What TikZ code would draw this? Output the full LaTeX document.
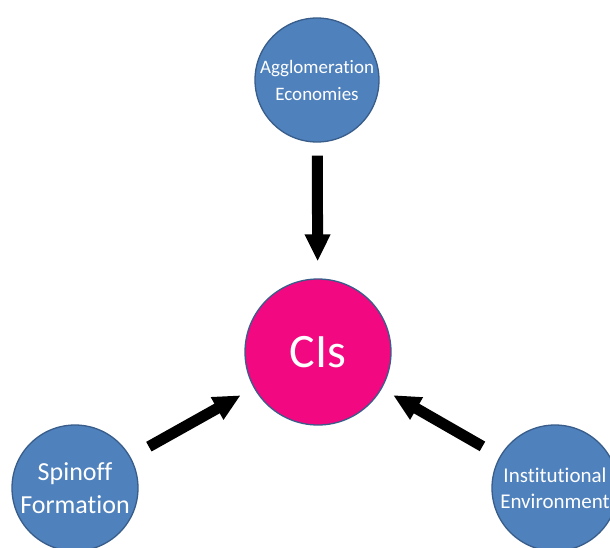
\documentclass[tikz,border=0pt]{standalone}
\usepackage{fontspec}
\setmainfont[Ligatures=NoCommon]{Carlito}
\usetikzlibrary{arrows.meta}
\definecolor{cblue}{HTML}{4F81BD}
\definecolor{cedge}{HTML}{385D8A}
\definecolor{cpink}{HTML}{F20881}
\begin{document}
\begin{tikzpicture}[x=1pt,y=-1pt,
  bubble/.style={circle,draw=cedge,line width=1.3pt,fill=cblue,inner sep=0pt,
    minimum size=124pt,text=white,align=center},
  hub/.style={circle,draw=cedge,line width=1.3pt,fill=cpink,inner sep=0pt,
    minimum size=146pt,text=white},
  bigarrow/.style={draw=black,line width=11pt,
    -{Triangle[width=24pt,length=27pt]}}]
\useasboundingbox (0,0) rectangle (610,547);
\clip (0,0) rectangle (610,547);
\fill[white] (0,0) rectangle (610,547);
\node[bubble,font=\fontsize{19}{27}\selectfont] (agg) at (317,80) {Agglomeration\\Economies};
\node[hub,font=\fontsize{48}{52}\selectfont] (cis) at (318,352) {CIs};
\node[bubble,minimum size=126pt,font=\fontsize{26}{33}\selectfont] (spin) at (75,488) {Spinoff\\Formation};
\node[bubble,minimum size=126pt,font=\fontsize{21}{26}\selectfont] (inst) at (555,488) {Institutional\\Environment};
\draw[bigarrow,shorten <=13pt,shorten >=17pt] (agg) -- (cis);
\draw[bigarrow,shorten <=21pt,shorten >=15pt] (spin) -- (cis);
\draw[bigarrow,shorten <=20pt,shorten >=13pt] (inst) -- (cis);
\end{tikzpicture}
\end{document}
